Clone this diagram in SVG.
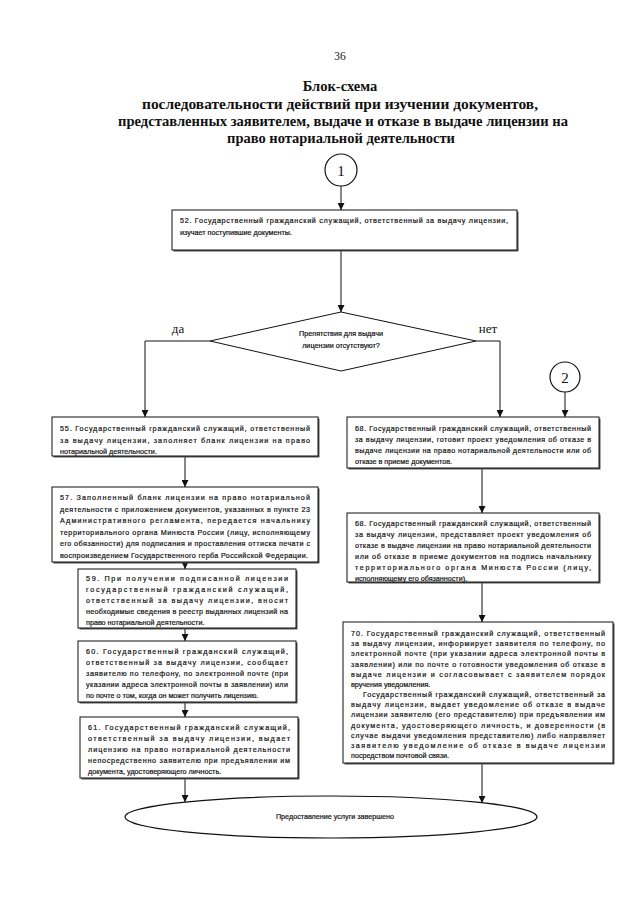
<svg xmlns="http://www.w3.org/2000/svg" width="640" height="905" viewBox="0 0 640 905">
<defs>
<marker id="arr" viewBox="0 0 10 10" refX="10" refY="5" markerWidth="7" markerHeight="7" markerUnits="userSpaceOnUse" orient="auto">
<path d="M0,0 L10,5 L0,10 z" fill="#111"/>
</marker>
<style>
.title{font-family:"Liberation Serif","Times New Roman",serif;font-weight:bold;font-size:14.5px;fill:#111;text-anchor:middle}
.serif{font-family:"Liberation Serif","Times New Roman",serif;fill:#111}
.t{font-family:"Liberation Sans",Arial,sans-serif;font-size:7.2px;fill:#111;stroke:#111;stroke-width:0.2}
.box{fill:#fff;stroke:#111;stroke-width:1}
.sh{fill:#555}
.ln{fill:none;stroke:#111;stroke-width:1}
.ar{fill:none;stroke:#111;stroke-width:1;marker-end:url(#arr)}
</style>
</defs>
<rect width="640" height="905" fill="#fff"/>
<text class="serif" x="340" y="60" font-size="11.5" text-anchor="middle">36</text>
<text class="title" x="340" y="91" font-size="15">Блок-схема</text>
<text class="title" x="340" y="109" textLength="396" lengthAdjust="spacingAndGlyphs">последовательности действий при изучении документов,</text>
<text class="title" x="343" y="126" textLength="450" lengthAdjust="spacingAndGlyphs">представленных заявителем, выдаче и отказе в выдаче лицензии на</text>
<text class="title" x="341" y="143">право нотариальной деятельности</text>

<g id="connectors">
<line class="ar" x1="341" y1="186" x2="341" y2="210"/>
<line class="ar" x1="341" y1="250" x2="341" y2="312"/>
<polyline class="ar" points="210,341 145,341 145,417"/>
<polyline class="ar" points="476,341 500,341 500,417"/>
<line class="ar" x1="565" y1="392" x2="565" y2="417"/>
<line class="ar" x1="185" y1="456" x2="185" y2="487"/>
<line class="ar" x1="185" y1="562" x2="185" y2="569"/>
<line class="ar" x1="185" y1="628" x2="185" y2="641"/>
<line class="ar" x1="185" y1="702" x2="185" y2="717"/>
<line class="ar" x1="185" y1="778" x2="185" y2="802"/>
<line class="ar" x1="482" y1="468" x2="482" y2="513"/>
<line class="ar" x1="482" y1="582" x2="482" y2="622"/>
<line class="ar" x1="482" y1="763" x2="482" y2="803"/>
</g>
<text class="serif" x="178" y="333" font-size="13" text-anchor="middle">да</text>
<text class="serif" x="488" y="333" font-size="13" text-anchor="middle">нет</text>

<g id="c1">
<circle cx="341" cy="170" r="16" fill="#fff" stroke="#111" stroke-width="1.2"/>
<text class="serif" x="341" y="176" font-size="15" text-anchor="middle">1</text>
</g>
<g id="c2">
<circle cx="565" cy="377" r="15" fill="#fff" stroke="#111" stroke-width="1.2"/>
<text class="serif" x="565" y="383" font-size="15" text-anchor="middle">2</text>
</g>

<g id="n52">
<rect class="sh" x="173.5" y="211.5" width="345" height="40"/>
<rect class="box" x="172" y="210" width="345" height="40"/>
<text class="t" x="180" y="223" textLength="328">52. Государственный гражданский служащий, ответственный за выдачу лицензии,</text>
<text class="t" x="180" y="235">изучает поступившие документы.</text>
</g>

<g id="decision">
<polygon points="341,312 476,341 341,371 210,341" fill="#fff" stroke="#111" stroke-width="1"/>
<text class="t" x="341" y="336" text-anchor="middle">Препятствия для выдачи</text>
<text class="t" x="341" y="348" text-anchor="middle">лицензии отсутствуют?</text>
</g>

<g id="n55">
<rect class="sh" x="53.5" y="418.5" width="266" height="39"/>
<rect class="box" x="52" y="417" width="266" height="39"/>
<text class="t" x="60" y="431" textLength="250">55. Государственный гражданский служащий, ответственный</text>
<text class="t" x="60" y="443" textLength="250">за выдачу лицензии, заполняет бланк лицензии на право</text>
<text class="t" x="60" y="454">нотариальной деятельности.</text>
</g>

<g id="n57">
<rect class="sh" x="53.5" y="488.5" width="266" height="75"/>
<rect class="box" x="52" y="487" width="266" height="75"/>
<text class="t" x="60" y="500" textLength="250">57. Заполненный бланк лицензии на право нотариальной</text>
<text class="t" x="60" y="511.5" textLength="250">деятельности с приложением документов, указанных в пункте 23</text>
<text class="t" x="60" y="523" textLength="250">Административного регламента, передается начальнику</text>
<text class="t" x="60" y="534.5" textLength="250">территориального органа Минюста России (лицу, исполняющему</text>
<text class="t" x="60" y="546" textLength="250">его обязанности) для подписания и проставления оттиска печати с</text>
<text class="t" x="60" y="557.5" textLength="248">воспроизведением Государственного герба Российской Федерации.</text>
</g>

<g id="n59">
<rect class="sh" x="79.5" y="570.5" width="218" height="59"/>
<rect class="box" x="78" y="569" width="218" height="59"/>
<text class="t" x="86" y="581" textLength="202">59. При получении подписанной лицензии</text>
<text class="t" x="86" y="592" textLength="202">государственный гражданский служащий,</text>
<text class="t" x="86" y="603" textLength="202">ответственный за выдачу лицензии, вносит</text>
<text class="t" x="86" y="614" textLength="202">необходимые сведения в реестр выданных лицензий на</text>
<text class="t" x="86" y="624.5">право нотариальной деятельности.</text>
</g>

<g id="n60">
<rect class="sh" x="79.5" y="642.5" width="218" height="61"/>
<rect class="box" x="78" y="641" width="218" height="61"/>
<text class="t" x="86" y="654" textLength="202">60. Государственный гражданский служащий,</text>
<text class="t" x="86" y="665" textLength="202">ответственный за выдачу лицензии, сообщает</text>
<text class="t" x="86" y="676" textLength="202">заявителю по телефону, по электронной почте (при</text>
<text class="t" x="86" y="687" textLength="202">указании адреса электронной почты в заявлении) или</text>
<text class="t" x="86" y="698">по почте о том, когда он может получить лицензию.</text>
</g>

<g id="n61">
<rect class="sh" x="81.5" y="718.5" width="218" height="61"/>
<rect class="box" x="80" y="717" width="218" height="61"/>
<text class="t" x="88" y="730" textLength="202">61. Государственный гражданский служащий,</text>
<text class="t" x="88" y="741" textLength="202">ответственный за выдачу лицензии, выдает</text>
<text class="t" x="88" y="752" textLength="202">лицензию на право нотариальной деятельности</text>
<text class="t" x="88" y="763" textLength="202">непосредственно заявителю при предъявлении им</text>
<text class="t" x="88" y="774">документа, удостоверяющего личность.</text>
</g>

<g id="n68a">
<rect class="sh" x="348.5" y="418.5" width="252" height="51"/>
<rect class="box" x="347" y="417" width="252" height="51"/>
<text class="t" x="355" y="431" textLength="236">68. Государственный гражданский служащий, ответственный</text>
<text class="t" x="355" y="442" textLength="236">за выдачу лицензии, готовит проект уведомления об отказе в</text>
<text class="t" x="355" y="453" textLength="236">выдаче лицензии на право нотариальной деятельности или об</text>
<text class="t" x="355" y="464">отказе в приеме документов.</text>
</g>

<g id="n68b">
<rect class="sh" x="348.5" y="514.5" width="252" height="69"/>
<rect class="box" x="347" y="513" width="252" height="69"/>
<text class="t" x="355" y="526" textLength="236">68. Государственный гражданский служащий, ответственный</text>
<text class="t" x="355" y="537" textLength="236">за выдачу лицензии, представляет проект уведомления об</text>
<text class="t" x="355" y="548" textLength="236">отказе в выдаче лицензии на право нотариальной деятельности</text>
<text class="t" x="355" y="559" textLength="236">или об отказе в приеме документов на подпись начальнику</text>
<text class="t" x="355" y="570" textLength="236">территориального органа Минюста России (лицу,</text>
<text class="t" x="355" y="580.5">исполняющему его обязанности).</text>
</g>

<g id="n70">
<rect class="sh" x="344.5" y="623.5" width="270" height="141"/>
<rect class="box" x="343" y="622" width="270" height="141"/>
<text class="t" x="351" y="636" textLength="254">70. Государственный гражданский служащий, ответственный</text>
<text class="t" x="351" y="646.2" textLength="254">за выдачу лицензии, информирует заявителя по телефону, по</text>
<text class="t" x="351" y="656.3" textLength="254">электронной почте (при указании адреса электронной почты в</text>
<text class="t" x="351" y="666.5" textLength="254">заявлении) или по почте о готовности уведомления об отказе в</text>
<text class="t" x="351" y="676.7" textLength="254">выдаче лицензии и согласовывает с заявителем порядок</text>
<text class="t" x="351" y="686.8">вручения уведомления.</text>
<text class="t" x="363" y="697" textLength="242">Государственный гражданский служащий, ответственный за</text>
<text class="t" x="351" y="707.2" textLength="254">выдачу лицензии, выдает уведомление об отказе в выдаче</text>
<text class="t" x="351" y="717.4" textLength="254">лицензии заявителю (его представителю) при предъявлении им</text>
<text class="t" x="351" y="727.5" textLength="254">документа, удостоверяющего личность, и доверенности (в</text>
<text class="t" x="351" y="737.7" textLength="254">случае выдачи уведомления представителю) либо направляет</text>
<text class="t" x="351" y="747.9" textLength="254">заявителю уведомление об отказе в выдаче лицензии</text>
<text class="t" x="351" y="758">посредством почтовой связи.</text>
</g>

<g id="end">
<ellipse cx="331" cy="817" rx="206" ry="21" fill="#fff" stroke="#111" stroke-width="1.2"/>
<text class="t" x="335" y="819" text-anchor="middle">Предоставление услуги завершено</text>
</g>
</svg>
